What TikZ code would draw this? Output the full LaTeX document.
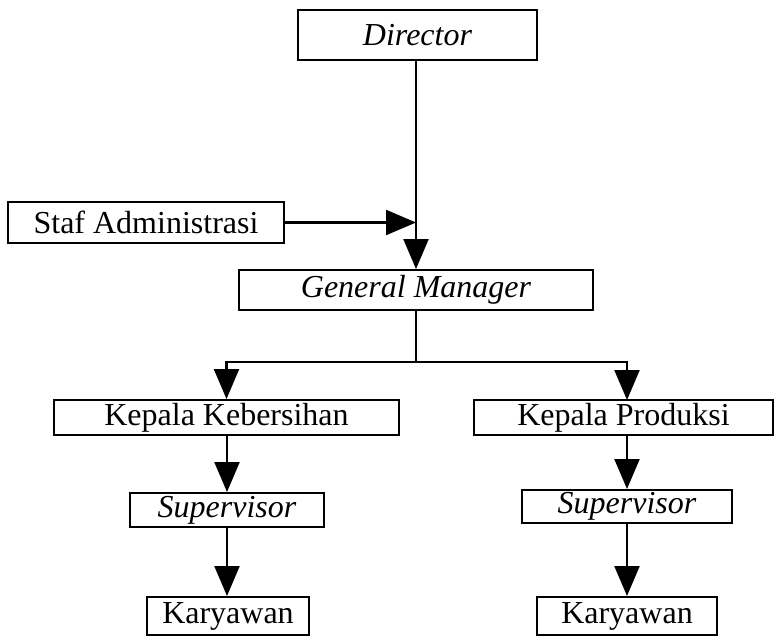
\documentclass[tikz,border=0pt]{standalone}
\usepackage{fontspec}
\setmainfont{Liberation Serif}
\usetikzlibrary{arrows.meta}
\begin{document}
\begin{tikzpicture}[x=1pt,y=-1pt,
  box/.style={draw, line width=2pt, inner sep=0pt, anchor=center, font=\fontsize{32}{36}\selectfont},
  conn/.style={line width=2.2pt},
  arr/.style={conn, -{Triangle[length=30pt,width=25pt]}}]
\useasboundingbox (0,0) rectangle (775,637);
\node[box, minimum width=239pt, minimum height=50pt] (dir) at (417.5,35) {\itshape Director};
\node[box, minimum width=276pt, minimum height=41pt] (staf) at (146,222.5) {Staf Administrasi};
\node[box, minimum width=354pt, minimum height=40pt] (gm) at (416,290) {\itshape General Manager};
\node[box, minimum width=345pt, minimum height=35pt] (kk) at (226.5,417.5) {Kepala Kebersihan};
\node[box, minimum width=299pt, minimum height=35pt] (kp) at (623.5,417.5) {Kepala Produksi};
\node[box, minimum width=194pt, minimum height=34pt] (supl) at (227,510) {\itshape Supervisor};
\node[box, minimum width=210pt, minimum height=33pt] (supr) at (627,506.5) {\itshape Supervisor};
\node[box, minimum width=162pt, minimum height=38pt] (karl) at (228,616) {Karyawan};
\node[box, minimum width=180pt, minimum height=38pt] (karr) at (627,616) {Karyawan};
\coordinate (j) at (416,362);
\coordinate (kpin) at (627,400);
\draw[arr] (dir.south -| gm.north) -- (gm.north);
\draw[arr] (staf.east) -- (staf.east -| gm.north);
\draw[conn] (gm.south) -- (j);
\draw[arr] (j) -| (kk.north);
\draw[arr] (j) -| (kpin);
\draw[arr] (kk.south -| supl.north) -- (supl.north);
\draw[arr] (supl.south) -- (supl.south |- karl.north);
\draw[arr] (supr.north |- kp.south) -- (supr.north);
\draw[arr] (supr.south) -- (supr.south |- karr.north);
\end{tikzpicture}
\end{document}
